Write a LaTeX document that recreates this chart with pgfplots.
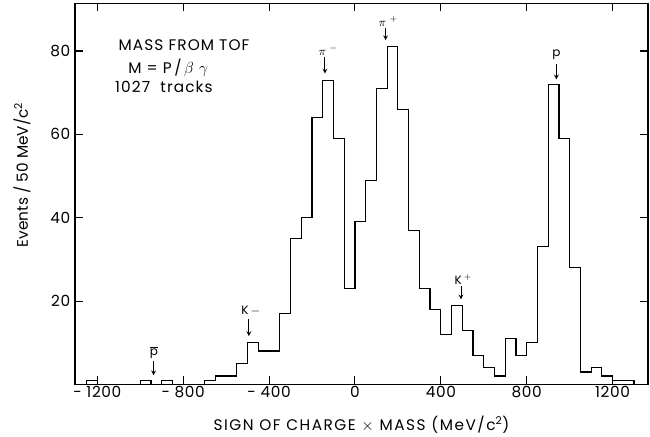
\documentclass[border=0pt]{standalone}
\usepackage{fontspec}
\setmainfont{Poppins}
\usepackage{pgfplots}
\pgfplotsset{compat=1.18}

\begin{document}
\begin{tikzpicture}
% fixed page box: 650x436 px at 0.75pt per px
\useasboundingbox (-56.25pt,-38.7pt) rectangle (431.25pt,288.3pt);
\begin{axis}[
    at={(0,0)}, anchor=south west,
    scale only axis,
    width=429.75pt, height=286pt,
    xmin=-1304, xmax=1365,
    ymin=0, ymax=91.5,
    xtick={-1200,-800,-400,0,400,800,1200},
    xticklabels={- 1200,- 800,- 400,0,400,800,1200},
    ytick={20,40,60,80},
    yticklabels={20,40,60,80},
    tick align=inside,
    major tick length=6pt,
    axis line style={line width=0.8pt},
    tick style={line width=0.8pt, black},
    ticklabel style={font=\fontsize{11.5}{13}\selectfont\addfontfeature{LetterSpace=4}},
    xticklabel style={yshift=2.5pt},
    xlabel={\addfontfeature{LetterSpace=10}SIGN OF CHARGE $\times$ MASS (MeV/c\textsuperscript{2})},
    xlabel style={at={(axis description cs:0.5,-0.106)}, anchor=center, font=\fontsize{11.5}{13}\selectfont},
    ylabel={Events / 50 MeV/c\textsuperscript{2}},
    ylabel style={at={(axis description cs:-0.0925,0.55)}, anchor=center, font=\fontsize{11.5}{13}\selectfont},
    clip=false,
]
\addplot[const plot mark left, black, line width=0.9pt] coordinates {
    (-1300,0)(-1250,1)(-1200,0)(-1000,1)(-950,0)(-900,1)(-850,0)
    (-700,1)(-650,2)(-600,2)(-550,5)(-500,10)(-450,8)(-400,8)
    (-350,17)(-300,35)(-250,40)(-200,64)(-150,73)(-100,59)(-50,23)
    (0,39)(50,49)(100,71)(150,81)(200,66)(250,37)(300,23)(350,18)
    (400,12)(450,19)(500,13)(550,7)(600,4)(650,2)(700,11)(750,7)
    (800,10)(850,33)(900,72)(950,59)(1000,28)(1050,3)(1100,4)
    (1150,2)(1200,1)(1250,1)(1300,0)
};

% particle labels and arrows
\tikzset{lbl/.style={font=\fontsize{9}{10}\selectfont, inner sep=0pt},
         arr/.style={-stealth, line width=0.6pt}}
\node[lbl] at (axis cs:-936,7.6) {$\overline{\mathrm{p}}$};
\draw[arr] (axis cs:-938,5.6) -- (axis cs:-938,2.2);
\node[lbl] at (axis cs:-485,17.6) {K\,$-$};
\draw[arr] (axis cs:-494,15.6) -- (axis cs:-494,11.6);
\node[lbl] at (axis cs:-125,80.2) {$\pi$\;$^-$};
\draw[arr] (axis cs:-140,78.6) -- (axis cs:-140,74.6);
\node[lbl] at (axis cs:155,87.2) {$\pi$\;$^+$};
\draw[arr] (axis cs:143,85.4) -- (axis cs:143,82.6);
\node[lbl] at (axis cs:505,25.2) {K\,$^+$};
\draw[arr] (axis cs:494,23.6) -- (axis cs:494,20.4);
\node[lbl] at (axis cs:938,79.2) {p};
\draw[arr] (axis cs:938,76.8) -- (axis cs:938,73.2);

% text block
\tikzset{blk/.style={anchor=west, font=\fontsize{11.5}{13}\selectfont\addfontfeature{LetterSpace=7}, inner sep=0pt}}
\node[blk] at (axis cs:-1102,81.4) {MASS FROM TOF};
\node[blk] at (axis cs:-1057,75.9) {M = P\,/\,$\beta\ \gamma$};
\node[blk] at (axis cs:-1118,71.4) {1027 \ tracks};
\end{axis}
\end{tikzpicture}
\end{document}
